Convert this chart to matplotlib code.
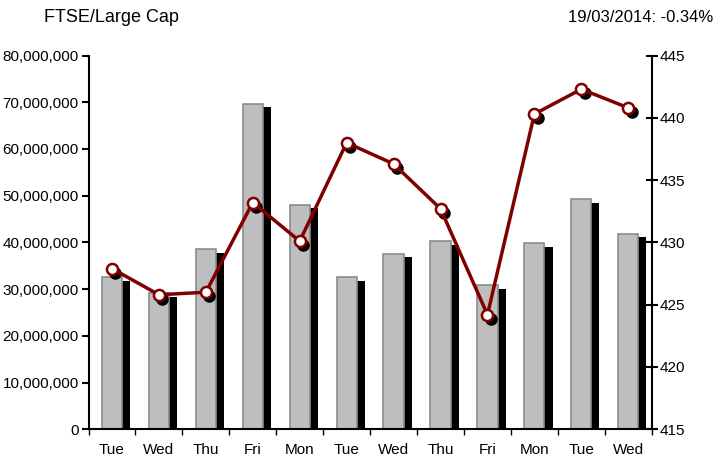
import matplotlib
matplotlib.use("Agg")
import matplotlib.pyplot as plt
import matplotlib.transforms as mtransforms
import matplotlib.patheffects as pe
from matplotlib.ticker import FuncFormatter, MultipleLocator

days = ["Tue", "Wed", "Thu", "Fri", "Mon", "Tue", "Wed", "Thu", "Fri", "Mon", "Tue", "Wed"]
volume = [32.5e6, 29.1e6, 38.5e6, 69.7e6, 48.1e6, 32.5e6, 37.6e6, 40.2e6, 30.8e6, 39.8e6, 49.2e6, 41.9e6]
index_level = [427.9, 425.8, 426.0, 433.2, 430.1, 438.0, 436.3, 432.7, 424.2, 440.3, 442.3, 440.8]

plt.rcParams['font.family'] = ['Liberation Sans', 'DejaVu Sans']
plt.rcParams['font.size'] = 11

fig = plt.figure(figsize=(7.15, 4.65), dpi=100)
ax = fig.add_axes([0.1238, 0.0768, 0.7877, 0.8038])
x = list(range(len(days)))

bars = ax.bar(x, volume, width=0.43, color="#BEBEBE", edgecolor="#8C8C8C", linewidth=1.2, zorder=2)
for b in bars:
    b.set_path_effects([pe.SimplePatchShadow(offset=(5.8, -2.5), shadow_rgbFace="black", alpha=1.0),
                        pe.Normal()])

ax.set_xlim(-0.5, len(days) - 0.5)
ax.set_ylim(0, 80e6)
ax.yaxis.set_major_locator(MultipleLocator(10e6))
ax.yaxis.set_major_formatter(FuncFormatter(lambda v, p: f"{int(v):,}"))
ax.set_xticks([i - 0.5 for i in range(len(days) + 1)])
ax.set_xticklabels([])
ax.set_xticks(x, minor=True)
ax.set_xticklabels(days, minor=True)
ax.tick_params(axis="x", which="minor", length=0, pad=10, labelsize=11)
ax.tick_params(axis="x", which="major", direction="out", length=4, width=1)
ax.tick_params(axis="y", direction="out", length=5, width=1.5, pad=2, labelsize=11)
for s in ["top", "right"]:
    ax.spines[s].set_visible(False)
ax.spines["left"].set_linewidth(1.5)
ax.spines["bottom"].set_linewidth(1.5)

ax2 = ax.twinx()
ax2.set_ylim(415, 445)
ax2.yaxis.set_major_locator(MultipleLocator(5))
ax2.tick_params(axis="y", direction="inout", length=8, width=1.5, pad=2, labelsize=11)
for s in ["top", "left", "bottom"]:
    ax2.spines[s].set_visible(False)
ax2.spines["right"].set_linewidth(1.5)

shadow = mtransforms.offset_copy(ax2.transData, fig=fig, x=2.5, y=-3, units="points")
ax2.plot(x, index_level, linestyle="none", marker="o", markersize=8,
         markerfacecolor="black", markeredgecolor="black", transform=shadow, zorder=3)
ax2.plot(x, index_level, color="#800000", linewidth=2.5, marker="o", markersize=8,
         markerfacecolor="white", markeredgecolor="#800000", markeredgewidth=1.8, zorder=4)

fig.text(0.061, 0.962, "FTSE/Large Cap", fontsize=13, ha="left", va="center")
fig.text(0.997, 0.962, "19/03/2014: -0.34%", fontsize=12, ha="right", va="center")

fig.savefig("out.png", dpi=100)
